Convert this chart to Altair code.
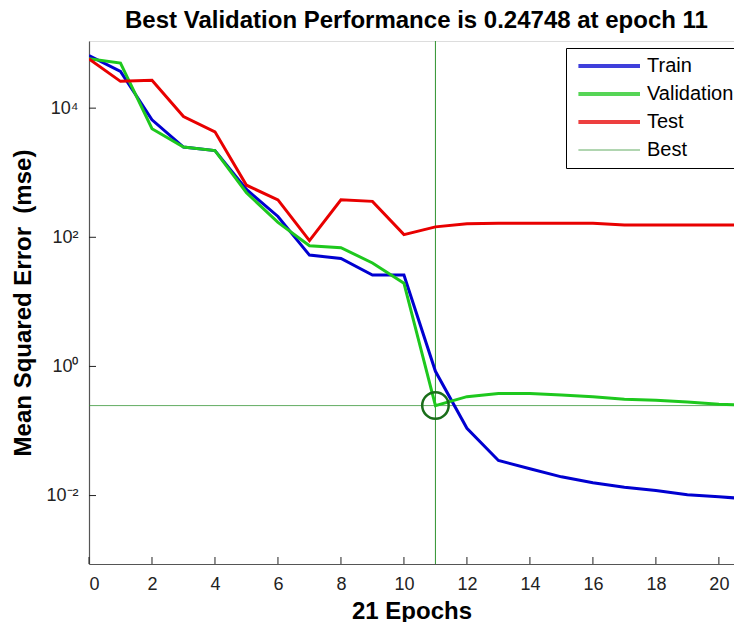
import altair as alt
import pandas as pd

# ---- data ----
epochs = list(range(22))
train = [6.5e4, 3.7e4, 6.6e3, 2.5e3, 2.2e3, 5.5e2, 2.1e2, 53, 47, 26, 26,
         0.84, 0.11, 0.035, 0.026, 0.0195, 0.0158, 0.0135, 0.012, 0.0103, 0.0096, 0.0088]
validation = [5.8e4, 5.0e4, 4.8e3, 2.5e3, 2.2e3, 4.9e2, 1.7e2, 74, 69, 40, 19.5,
              0.24748, 0.34, 0.38, 0.38, 0.36, 0.34, 0.31, 0.30, 0.28, 0.26, 0.25]
test = [5.8e4, 2.6e4, 2.7e4, 7.4e3, 4.3e3, 6.4e2, 3.8e2, 89, 3.8e2, 3.6e2, 110,
        145, 162, 165, 165, 165, 165, 155, 155, 155, 155, 155]
best_epoch = 11
best_perf = 0.24748

series_names = ["Train", "Validation", "Test", "Best"]
series_colors = ["#0000d0", "#1ec81e", "#e80000", "#2f922f"]
x_tick_values = [0, 2, 4, 6, 8, 10, 12, 14, 16, 18, 20]
y_tick_values = [1e-2, 1, 1e2, 1e4]

rows = []
for name, vals in (("Train", train), ("Validation", validation), ("Test", test)):
    for e, v in zip(epochs, vals):
        rows.append({"epoch": e, "mse": v, "series": name})
df = pd.DataFrame(rows)
best_df = pd.DataFrame({"epoch": [best_epoch], "mse": [best_perf], "series": ["Best"]})
xt_df = pd.DataFrame({"v": x_tick_values})
yt_df = pd.DataFrame({"v": y_tick_values})

FONT = "Liberation Sans"
W, H = 645, 523
xscale = alt.Scale(domain=[0, 20.48], nice=False, zero=False)
yscale = alt.Scale(type="log", domain=[10 ** -3.06, 10 ** 5.04], nice=False)

legend = alt.Legend(
    title=None, orient="none", legendX=477, legendY=7,
    symbolType="M-0.4,0H4", symbolSize=784,
    symbolStrokeWidth=alt.ExprRef("datum.value === 'Best' ? 1 : 4"),
    labelFont=FONT, labelFontSize=20, labelColor="#000",
    labelOffset=53, rowPadding=8, padding=8,
    fillColor="white", strokeColor="#000", labelLimit=300,
)
color = alt.Color("series:N", scale=alt.Scale(domain=series_names, range=series_colors), legend=legend)

sup_expr = ("'10' + replace(replace(replace(replace(replace(replace(''+round(log(datum.value)/LN10),"
            "'-','\u207b'),'0','\u2070'),'1','\u00b9'),'2','\u00b2'),'3','\u00b3'),'4','\u2074')")

main_x_axis = alt.Axis(orient="bottom", values=x_tick_values, ticks=False, grid=False,
                       domainColor="#555", domainWidth=1.2, labelFont=FONT, labelFontSize=18,
                       labelColor="#222", labelPadding=11, title="21 Epochs", titleFont=FONT,
                       titleFontSize=24, titleFontWeight="bold", titleColor="#000", titlePadding=6)
main_y_axis = alt.Axis(orient="left", values=y_tick_values, ticks=False, grid=False,
                       domainColor="#555", domainWidth=1.2, labelFont=FONT, labelFontSize=18,
                       labelColor="#222", labelPadding=11, labelExpr=sup_expr,
                       title="Mean Squared Error\u00a0 (mse)", titleFont=FONT, titleFontSize=24,
                       titleFontWeight="bold", titleColor="#000", titlePadding=10)

vrule = alt.Chart(best_df).mark_rule(strokeWidth=1).encode(
    x=alt.X("epoch:Q", scale=xscale, axis=None), color=color)
hrule = alt.Chart(best_df).mark_rule(strokeWidth=1, opacity=0.75).encode(
    y=alt.Y("mse:Q", scale=yscale, axis=None), color=color)
lines = alt.Chart(df).mark_line(clip=True, strokeWidth=3).encode(
    x=alt.X("epoch:Q", scale=xscale, axis=main_x_axis),
    y=alt.Y("mse:Q", scale=yscale, axis=main_y_axis),
    color=color, order="epoch:Q")
circle = alt.Chart(best_df).mark_point(shape="circle", size=700, filled=False,
                                       strokeWidth=2.5, color="#1a6e1a", opacity=1).encode(
    x=alt.X("epoch:Q", scale=xscale, axis=None),
    y=alt.Y("mse:Q", scale=yscale, axis=None))
xticks = alt.Chart(xt_df).mark_rule(color="#222", strokeWidth=1).encode(
    x=alt.X("v:Q", scale=xscale, axis=None), y=alt.value(H - 7), y2=alt.value(H))
yticks = alt.Chart(yt_df).mark_rule(color="#222", strokeWidth=1).encode(
    y=alt.Y("v:Q", scale=yscale, axis=None), x=alt.value(0), x2=alt.value(7))

chart = alt.layer(vrule, hrule, lines, circle, xticks, yticks).resolve_axis(
    x="independent", y="independent"
).properties(
    width=W, height=H,
    autosize=alt.AutoSizeParams(type="none"),
    padding={"left": 81, "top": 33, "right": 0, "bottom": 58},
    title=alt.TitleParams("Best Validation Performance is 0.24748 at epoch 11",
                          font=FONT, fontSize=24, fontWeight="bold", color="#000",
                          anchor="middle", offset=8, dx=5),
).configure_view(stroke=None).configure(background="white")

chart.save("out.html", embed_options={"renderer": "svg", "actions": False})
